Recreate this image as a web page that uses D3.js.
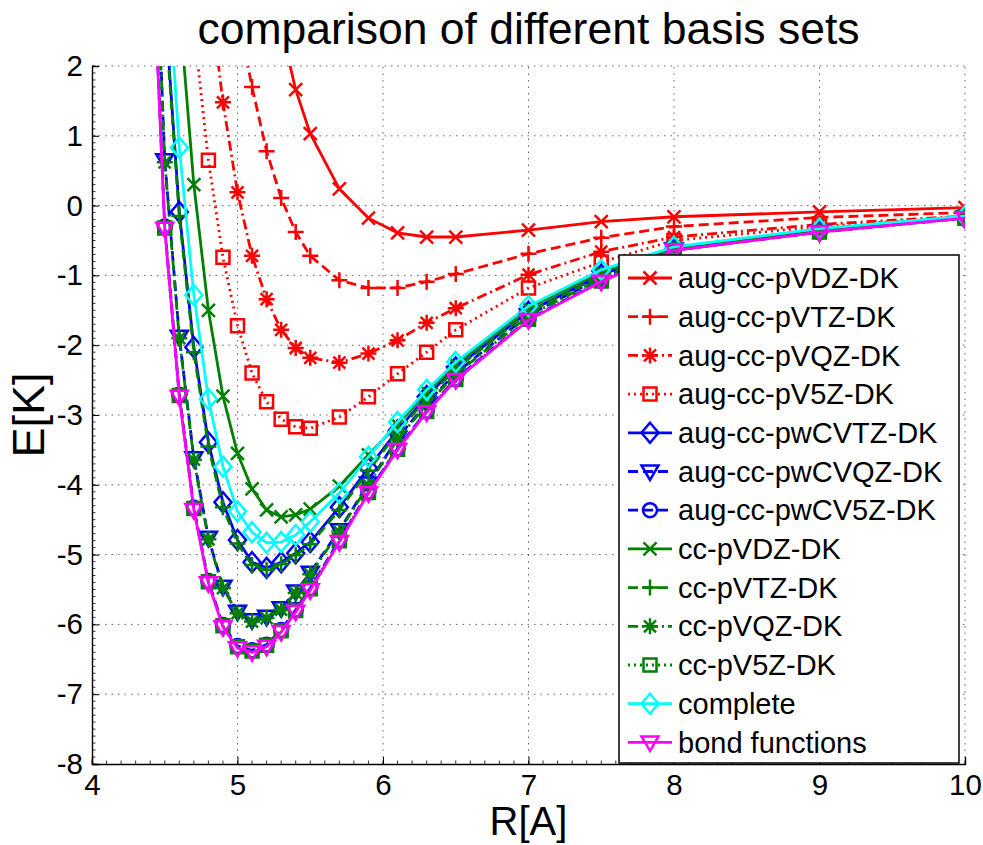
<!DOCTYPE html>
<html>
<head>
<meta charset="utf-8">
<script src="https://cdn.jsdelivr.net/npm/d3@7"></script>
<style>
  body { margin: 0; background: #fff; }
  text { font-family: "Liberation Sans", Arial, sans-serif; fill: #000; }
</style>
</head>
<body>
<svg id="chart" width="983" height="845"></svg>
<script>
// Distances R[A] where the energies were computed
const xs = [4.4, 4.5, 4.6, 4.7, 4.8, 4.9, 5.0, 5.1, 5.2, 5.3, 5.4, 5.5, 5.7, 5.9, 6.1, 6.3, 6.5, 7.0, 7.5, 8.0, 9.0, 10.0];

// Energies E[K] per basis set (null = not computed / far off scale)
const augVDZ = [null, null, null, null, null, null, null, null, null, 2.55, 1.66, 1.03, 0.24, -0.18, -0.39, -0.45, -0.45, -0.35, -0.23, -0.16, -0.09, -0.03];
const augVTZ = [null, null, null, null, null, null, 2.75, 1.70, 0.78, 0.11, -0.38, -0.72, -1.07, -1.18, -1.18, -1.09, -0.98, -0.69, -0.46, -0.30, -0.17, -0.10];
const augVQZ = [null, null, null, null, 3.2, 1.48, 0.19, -0.72, -1.34, -1.78, -2.04, -2.18, -2.25, -2.12, -1.93, -1.68, -1.47, -0.99, -0.66, -0.45, -0.27, -0.15];
const augV5Z = [null, null, null, 2.55, 0.65, -0.74, -1.72, -2.40, -2.81, -3.06, -3.17, -3.19, -3.03, -2.74, -2.41, -2.10, -1.78, -1.18, -0.81, -0.50, -0.30, -0.16];
const augwCVTZ = [null, 2.9, -0.09, -2.03, -3.39, -4.25, -4.79, -5.11, -5.19, -5.11, -4.98, -4.82, -4.32, -3.76, -3.22, -2.73, -2.32, -1.52, -0.99, -0.62, -0.36, -0.17];
const augwCVQZ = [6.0, 0.65, -1.88, -3.62, -4.76, -5.46, -5.82, -5.94, -5.89, -5.77, -5.53, -5.26, -4.65, -3.98, -3.33, -2.83, -2.40, -1.57, -1.03, -0.63, -0.37, -0.17];
const augwCV5Z = [4.6, -0.30, -2.71, -4.33, -5.38, -6.01, -6.31, -6.37, -6.29, -6.08, -5.79, -5.48, -4.79, -4.10, -3.48, -2.94, -2.48, -1.63, -1.08, -0.64, -0.38, -0.18];
const ccVDZ = [null, null, 2.85, 0.30, -1.50, -2.73, -3.55, -4.06, -4.36, -4.46, -4.43, -4.35, -4.02, -3.57, -3.14, -2.67, -2.27, -1.47, -0.95, -0.60, -0.34, -0.16];
const ccVTZ = [null, 2.8, -0.15, -2.10, -3.45, -4.32, -4.84, -5.15, -5.22, -5.14, -5.01, -4.85, -4.36, -3.80, -3.25, -2.76, -2.34, -1.53, -1.00, -0.62, -0.36, -0.17];
const ccVQZ = [5.8, 0.62, -1.90, -3.64, -4.78, -5.48, -5.84, -5.96, -5.91, -5.79, -5.55, -5.28, -4.67, -4.00, -3.35, -2.85, -2.42, -1.58, -1.04, -0.64, -0.37, -0.17];
const ccV5Z = [4.55, -0.32, -2.72, -4.34, -5.39, -6.02, -6.32, -6.38, -6.30, -6.09, -5.80, -5.49, -4.80, -4.11, -3.49, -2.95, -2.49, -1.63, -1.08, -0.64, -0.38, -0.18];
const complete = [null, 4.0, 0.83, -1.28, -2.77, -3.74, -4.38, -4.68, -4.83, -4.82, -4.72, -4.53, -4.12, -3.60, -3.10, -2.64, -2.24, -1.44, -0.92, -0.59, -0.33, -0.15];
const bondFunctions = [4.5, -0.33, -2.74, -4.36, -5.41, -6.04, -6.34, -6.40, -6.32, -6.11, -5.82, -5.51, -4.82, -4.12, -3.50, -2.96, -2.50, -1.64, -1.09, -0.64, -0.38, -0.18];

const labels = ["aug-cc-pVDZ-DK", "aug-cc-pVTZ-DK", "aug-cc-pVQZ-DK", "aug-cc-pV5Z-DK",
    "aug-cc-pwCVTZ-DK", "aug-cc-pwCVQZ-DK", "aug-cc-pwCV5Z-DK",
    "cc-pVDZ-DK", "cc-pVTZ-DK", "cc-pVQZ-DK", "cc-pV5Z-DK", "complete", "bond functions"];
const values = [augVDZ, augVTZ, augVQZ, augV5Z, augwCVTZ, augwCVQZ, augwCV5Z,
    ccVDZ, ccVTZ, ccVQZ, ccV5Z, complete, bondFunctions];

const xTicks = [4, 5, 6, 7, 8, 9, 10];
const yTicks = [2, 1, 0, -1, -2, -3, -4, -5, -6, -7, -8];

// matlab style: colour, line style, marker
const styles = [
    {color: "#ff0000", dash: null, marker: "x"},
    {color: "#ff0000", dash: "10,5", marker: "+"},
    {color: "#ff0000", dash: "10,4,2,4", marker: "*"},
    {color: "#ff0000", dash: "2,4", marker: "s"},
    {color: "#0000ff", dash: null, marker: "d"},
    {color: "#0000ff", dash: "10,5", marker: "v"},
    {color: "#0000ff", dash: "10,5", marker: "o"},
    {color: "#008000", dash: null, marker: "x"},
    {color: "#008000", dash: "10,5", marker: "+"},
    {color: "#008000", dash: "10,4,2,4", marker: "*"},
    {color: "#008000", dash: "2,4", marker: "s"},
    {color: "#00ffff", dash: null, marker: "d"},
    {color: "#ff00ff", dash: null, marker: "v"}
];

const series = labels.map((name, i) => ({
    name: name,
    style: styles[i],
    points: xs.map((x, j) => ({x: x, y: values[i][j]})).filter(p => p.y !== null)
}));

const margin = {left: 92, right: 18, top: 66, bottom: 81};
const svg = d3.select("#chart");
const width = 983, height = 845;
const plotW = width - margin.left - margin.right;
const plotH = height - margin.top - margin.bottom;

const x = d3.scaleLinear().domain([4, 10]).range([margin.left, margin.left + plotW]);
const y = d3.scaleLinear().domain([-8, 2]).range([margin.top + plotH, margin.top]);

// marker path centred on 0,0
function markerPath(type) {
    let p = d3.path();
    if (type === "x") {
        p.moveTo(-6.5, -6.5); p.lineTo(6.5, 6.5); p.moveTo(-6.5, 6.5); p.lineTo(6.5, -6.5);
    } else if (type === "+") {
        p.moveTo(-8, 0); p.lineTo(8, 0); p.moveTo(0, -8); p.lineTo(0, 8);
    } else if (type === "*") {
        p.moveTo(-8, 0); p.lineTo(8, 0); p.moveTo(0, -8); p.lineTo(0, 8);
        p.moveTo(-6, -6); p.lineTo(6, 6); p.moveTo(-6, 6); p.lineTo(6, -6);
    } else if (type === "s") {
        p.rect(-6.5, -6.5, 13, 13);
    } else if (type === "d") {
        p.moveTo(0, -10); p.lineTo(8.5, 0); p.lineTo(0, 10); p.lineTo(-8.5, 0); p.closePath();
    } else if (type === "v") {
        p.moveTo(-8.5, -6); p.lineTo(8.5, -6); p.lineTo(0, 8.5); p.closePath();
    } else if (type === "o") {
        p.arc(0, 0, 7, 0, 2 * Math.PI);
    }
    return p.toString();
}

// grid
const grid = svg.append("g").attr("stroke", "#666").attr("stroke-width", 1).attr("stroke-dasharray", "1.5,5");
grid.selectAll(".gx").data(xTicks.slice(1)).enter().append("line")
    .attr("x1", d => x(d)).attr("x2", d => x(d))
    .attr("y1", y(-8)).attr("y2", y(2));
grid.selectAll(".gy").data(yTicks.slice(0, -1)).enter().append("line")
    .attr("x1", x(4)).attr("x2", x(10))
    .attr("y1", d => y(d)).attr("y2", d => y(d));

svg.append("clipPath").attr("id", "plotclip").append("rect")
    .attr("x", x(4)).attr("y", y(2)).attr("width", plotW).attr("height", plotH);

const lineGen = d3.line().x(d => x(d.x)).y(d => y(d.y));
const plot = svg.append("g").attr("clip-path", "url(#plotclip)");

series.forEach(s => {
    let g = plot.append("g");
    g.append("path")
        .attr("d", lineGen(s.points))
        .attr("fill", "none")
        .attr("stroke", s.style.color)
        .attr("stroke-width", 2.8)
        .attr("stroke-dasharray", s.style.dash);
    g.selectAll("path.mk").data(s.points).enter().append("path")
        .attr("class", "mk")
        .attr("d", markerPath(s.style.marker))
        .attr("transform", d => `translate(${x(d.x)},${y(d.y)})`)
        .attr("fill", "none")
        .attr("stroke", s.style.color)
        .attr("stroke-width", 2.5);
});

// axes (ticks inside, matlab like)
const xAxis = svg.append("g").attr("transform", `translate(0,${y(-8)})`)
    .call(d3.axisBottom(x).tickValues(xTicks).tickSize(-7).tickPadding(10).tickFormat(d3.format("d")));
const yAxis = svg.append("g").attr("transform", `translate(${x(4)},0)`)
    .call(d3.axisLeft(y).tickValues(yTicks).tickSize(-7).tickPadding(9).tickFormat(d => d < 0 ? "-" + Math.abs(d) : d));

[xAxis, yAxis].forEach(a => {
    a.select(".domain").attr("stroke", "#000").attr("stroke-width", 1.4);
    a.selectAll(".tick line").attr("stroke", "#000");
    a.selectAll("text").attr("font-size", 29.5).attr("font-family", "Liberation Sans, Arial, sans-serif");
});

// minor ticks
svg.append("g").selectAll("line").data(d3.range(-8, 2.001, 0.1)).enter().append("line")
    .attr("x1", x(4)).attr("x2", x(4) + 3.5)
    .attr("y1", d => y(d)).attr("y2", d => y(d))
    .attr("stroke", "#000").attr("stroke-width", 0.8);
svg.append("g").selectAll("line").data(d3.range(4, 10.001, 0.1)).enter().append("line")
    .attr("x1", d => x(d)).attr("x2", d => x(d))
    .attr("y1", y(-8)).attr("y2", y(-8) - 3.5)
    .attr("stroke", "#000").attr("stroke-width", 0.8);

// titles
svg.append("text").attr("x", x(7)).attr("y", 44).attr("text-anchor", "middle")
    .attr("font-size", 44.5).text("comparison of different basis sets");
svg.append("text").attr("x", x(7)).attr("y", 835).attr("text-anchor", "middle")
    .attr("font-size", 40).text("R[A]");
svg.append("text").attr("transform", `translate(44,${y(-3)}) rotate(-90)`).attr("text-anchor", "middle")
    .attr("font-size", 45).text("E[K]");

// legend
const legend = svg.append("g").attr("transform", "translate(619,255)");
legend.append("rect").attr("width", 340).attr("height", 508)
    .attr("fill", "#fff").attr("stroke", "#000").attr("stroke-width", 1.5);
series.forEach((s, i) => {
    let ly = 23 + i * 38.7;
    let g = legend.append("g").attr("transform", `translate(0,${ly})`);
    g.append("line").attr("x1", 9).attr("x2", 53).attr("y1", 0).attr("y2", 0)
        .attr("stroke", s.style.color).attr("stroke-width", 2.8)
        .attr("stroke-dasharray", s.style.dash);
    g.append("path").attr("d", markerPath(s.style.marker))
        .attr("transform", "translate(31,0)")
        .attr("fill", "none").attr("stroke", s.style.color).attr("stroke-width", 2.5);
    g.append("text").attr("x", 59).attr("y", 0).attr("dy", "0.35em")
        .attr("font-size", 29).text(s.name);
});
</script>
</body>
</html>
